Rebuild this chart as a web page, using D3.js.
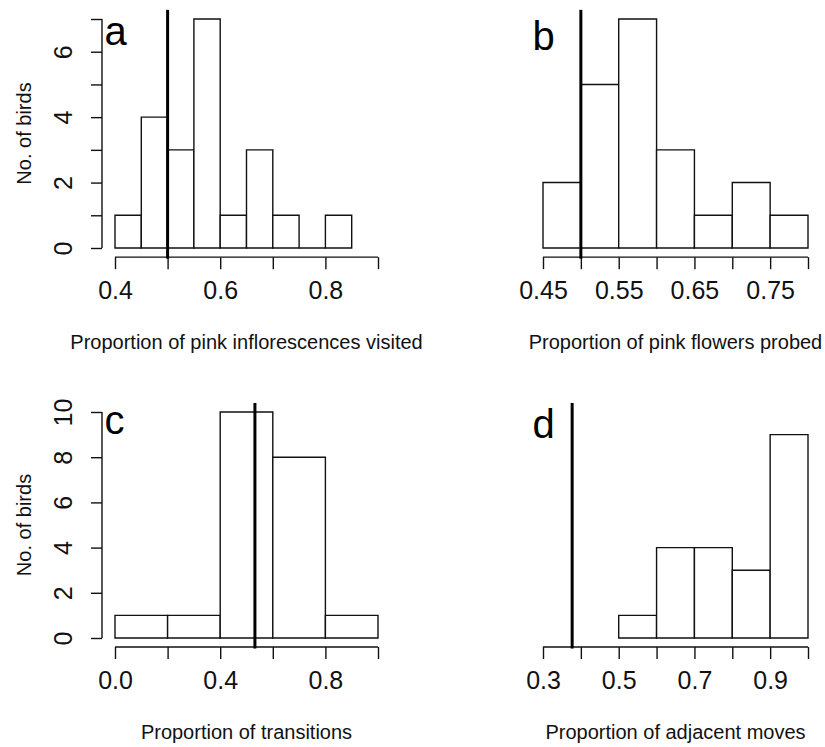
<!DOCTYPE html>
<html>
<head>
<meta charset="utf-8">
<script src="https://cdn.jsdelivr.net/npm/d3@7"></script>
<style>
  html, body { margin: 0; padding: 0; background: #fff; }
  svg { display: block; font-family: "Liberation Sans", Arial, sans-serif; }
</style>
</head>
<body>
<svg id="chart" width="825" height="747"></svg>
<script>
// (a) proportion of pink inflorescences visited
const breaksA = [0.40, 0.45, 0.50, 0.55, 0.60, 0.65, 0.70, 0.75, 0.80, 0.85];
const countsA = [1, 4, 3, 7, 1, 3, 1, 0, 1];
const xTicksA = [0.4, 0.5, 0.6, 0.7, 0.8, 0.9];
const xLabelsA = ["0.4", "", "0.6", "", "0.8", ""];
const refA = 0.5;

// (b) proportion of pink flowers probed
const breaksB = [0.45, 0.50, 0.55, 0.60, 0.65, 0.70, 0.75, 0.80];
const countsB = [2, 5, 7, 3, 1, 2, 1];
const xTicksB = [0.45, 0.50, 0.55, 0.60, 0.65, 0.70, 0.75, 0.80];
const xLabelsB = ["0.45", "", "0.55", "", "0.65", "", "0.75", ""];
const refB = 0.5;

// (c) proportion of transitions
const breaksC = [0.0, 0.2, 0.4, 0.6, 0.8, 1.0];
const countsC = [1, 1, 10, 8, 1];
const xTicksC = [0.0, 0.2, 0.4, 0.6, 0.8, 1.0];
const xLabelsC = ["0.0", "", "0.4", "", "0.8", ""];
const refC = 0.532;

// (d) proportion of adjacent moves
const breaksD = [0.5, 0.6, 0.7, 0.8, 0.9, 1.0];
const countsD = [1, 4, 4, 3, 9];
const xTicksD = [0.3, 0.4, 0.5, 0.6, 0.7, 0.8, 0.9, 1.0];
const xLabelsD = ["0.3", "", "0.5", "", "0.7", "", "0.9", ""];
const refD = 0.377;

// shared count axes for each row
const yTicksTop = [0, 1, 2, 3, 4, 5, 6, 7];
const yLabelsTop = ["0", "", "2", "", "4", "", "6", ""];
const yTicksBottom = [0, 2, 4, 6, 8, 10];
const yLabelsBottom = ["0", "2", "4", "6", "8", "10"];

const panelLetters = ["a", "b", "c", "d"];
const xTitles = [
  "Proportion of pink inflorescences visited",
  "Proportion of pink flowers probed",
  "Proportion of transitions",
  "Proportion of adjacent moves"
];
const yTitle = "No. of birds";

// layout: pixel span of each column's x limits and each row's y limits
const cols = [{ px0: 115, px1: 378, yAxisX: 102 }, { px0: 543, px1: 808 }];
const rows = [{ py0: 248, py1: 19 }, { py0: 638, py1: 412 }];

const panels = [
  { breaks: breaksA, counts: countsA, ticks: xTicksA, labels: xLabelsA, ref: refA,
    yTicks: yTicksTop, yLabels: yLabelsTop, col: 0, row: 0, showY: true, letterDy: 35 },
  { breaks: breaksB, counts: countsB, ticks: xTicksB, labels: xLabelsB, ref: refB,
    yTicks: yTicksTop, yLabels: yLabelsTop, col: 1, row: 0, showY: false, letterDy: 40 },
  { breaks: breaksC, counts: countsC, ticks: xTicksC, labels: xLabelsC, ref: refC,
    yTicks: yTicksBottom, yLabels: yLabelsBottom, col: 0, row: 1, showY: true, letterDy: 31 },
  { breaks: breaksD, counts: countsD, ticks: xTicksD, labels: xLabelsD, ref: refD,
    yTicks: yTicksBottom, yLabels: yLabelsBottom, col: 1, row: 1, showY: false, letterDy: 35 }
];

const svg = d3.select("#chart");
const ink = "#111";

panels.forEach((p, i) => {
  const c = cols[p.col], r = rows[p.row];
  const xlo = p.ticks[0], xhi = p.ticks[p.ticks.length - 1];
  const ylo = p.yTicks[0], yhi = p.yTicks[p.yTicks.length - 1];

  const x = d3.scaleLinear().domain([xlo, xhi]).range([c.px0, c.px1]);
  const y = d3.scaleLinear().domain([ylo, yhi]).range([r.py0, r.py1]);

  // plot region extends 4% past the limits on every side
  const xPad = 0.04 * (xhi - xlo), yPad = 0.04 * (yhi - ylo);
  const regionLeft = x(xlo - xPad), regionRight = x(xhi + xPad);
  const regionBottom = y(ylo - yPad), regionTop = y(yhi + yPad);

  const g = svg.append("g");

  // histogram bars (zero-count bins collapse to a line on the baseline)
  const bins = p.counts.map((n, k) => ({ x0: p.breaks[k], x1: p.breaks[k + 1], n }));
  g.selectAll("path.bar").data(bins).join("path")
    .attr("class", "bar")
    .attr("d", b => `M${x(b.x0)},${y(0)}V${y(b.n)}H${x(b.x1)}V${y(0)}Z`)
    .attr("fill", "#fff")
    .attr("stroke", ink)
    .attr("stroke-width", 1.4);

  // x axis
  const xAxis = d3.axisBottom(x)
    .tickValues(p.ticks)
    .tickFormat((d, k) => p.labels[k])
    .tickSizeOuter(0)
    .tickSize(12);
  const gx = g.append("g")
    .attr("transform", `translate(0,${regionBottom})`)
    .call(xAxis);
  gx.select(".domain").remove();
  gx.append("line")
    .attr("x1", x(xlo)).attr("x2", x(xhi))
    .attr("stroke", ink).attr("stroke-width", 1.4);
  gx.selectAll(".tick line").attr("stroke", ink).attr("stroke-width", 1.4);
  gx.selectAll(".tick text")
    .attr("y", 42).attr("dy", 0)
    .attr("fill", ink)
    .style("font-size", "25px")
    .style("font-family", "'Liberation Sans', Arial, sans-serif");

  // y axis (left column only)
  if (p.showY) {
    const ax = c.yAxisX;
    const yAxis = d3.axisLeft(y)
      .tickValues(p.yTicks)
      .tickFormat((d, k) => p.yLabels[k])
      .tickSizeOuter(0)
      .tickSize(11);
    const gy = g.append("g")
      .attr("transform", `translate(${ax},0)`)
      .call(yAxis);
    gy.select(".domain").remove();
    gy.append("line")
      .attr("y1", y(ylo)).attr("y2", y(yhi))
      .attr("stroke", ink).attr("stroke-width", 1.4);
    gy.selectAll(".tick line").attr("stroke", ink).attr("stroke-width", 1.4);
    gy.selectAll(".tick text")
      .attr("x", null).attr("dy", null)
      .attr("transform", "translate(-30,0) rotate(-90)")
      .attr("text-anchor", "middle")
      .attr("fill", ink)
      .style("font-size", "25px")
      .style("font-family", "'Liberation Sans', Arial, sans-serif");

    g.append("text")
      .attr("transform", `translate(31,${(regionTop + regionBottom) / 2}) rotate(-90)`)
      .attr("text-anchor", "middle")
      .attr("fill", ink)
      .style("font-size", "20px")
      .text(yTitle);
  }

  // reference line across the full plot region
  g.append("line")
    .attr("x1", x(p.ref)).attr("x2", x(p.ref))
    .attr("y1", regionTop).attr("y2", regionBottom + 1.5)
    .attr("stroke", "#000")
    .attr("stroke-width", 3);

  // x axis title
  g.append("text")
    .attr("x", (regionLeft + regionRight) / 2)
    .attr("y", regionBottom + 92)
    .attr("text-anchor", "middle")
    .attr("fill", ink)
    .style("font-size", "20px")
    .text(xTitles[i]);

  // panel letter
  g.append("text")
    .attr("x", regionLeft)
    .attr("y", regionTop + p.letterDy)
    .attr("fill", "#000")
    .style("font-size", "40px")
    .text(panelLetters[i]);
});
</script>
</body>
</html>
